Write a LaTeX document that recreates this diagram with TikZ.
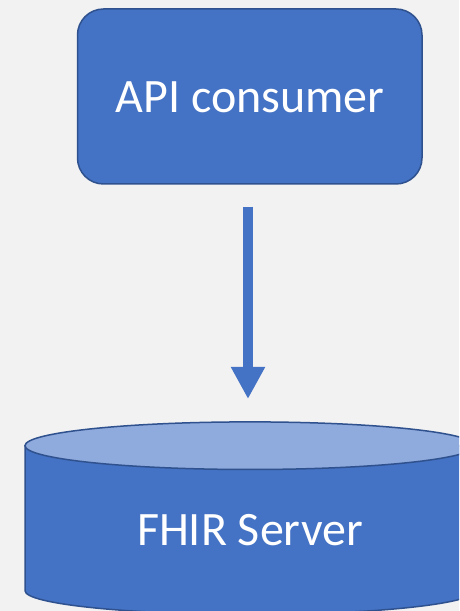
\documentclass[tikz,border=0pt]{standalone}
\usepackage{fontspec}
\setmainfont{Carlito}
\usetikzlibrary{arrows.meta}
\definecolor{bgcol}{HTML}{F2F2F2}
\definecolor{blockfill}{HTML}{4472C4}
\definecolor{blockline}{HTML}{2F528F}
\definecolor{lidfill}{HTML}{8FAADC}
\tikzset{
  block/.style={draw=blockline, fill=blockfill, line width=1.5pt},
  blocklabel/.style={text=white, font=\fontsize{48}{52}\selectfont, inner sep=0pt, anchor=base},
  flow/.style={draw=blockfill, line width=10.6pt, -{Triangle[width=32pt,length=32pt]}}
}
\begin{document}
\begin{tikzpicture}[x=1pt,y=1pt]
  \useasboundingbox (0,0) rectangle (459,611);
  \clip (0,0) rectangle (459,611);
  \fill[bgcol] (0,0) rectangle (459,611);

  % client box
  \node[block, rounded corners=26pt, minimum width=344.5pt, minimum height=175pt, inner sep=0pt]
    (consumer) at (249.75,514.5) {};
  \node[blocklabel] (consumerlabel) at (250,498) {API consumer};

  % server cylinder
  \path[block] (25,165.3) -- (25,20.3) arc (180:360:225 and 23.8) -- (475,165.3) -- cycle;
  \path[block, fill=lidfill] (250,165.3) ellipse (225 and 23.8);
  \node[blocklabel] (server) at (250,65) {FHIR Server};

  % request arrow
  \coordinate (arrowstart) at (248,404.3);
  \coordinate (arrowend) at (248,212);
  \draw[flow] (arrowstart) -- (arrowend);
\end{tikzpicture}
\end{document}
